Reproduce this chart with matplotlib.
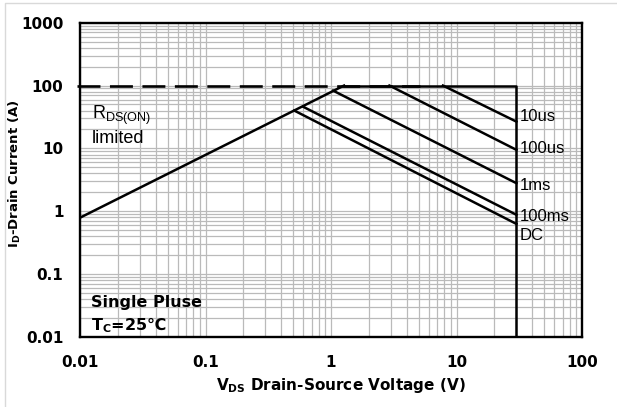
import matplotlib
matplotlib.use('Agg')
import matplotlib.pyplot as plt
from matplotlib.lines import Line2D
from matplotlib.ticker import LogLocator, FixedLocator, NullFormatter

plt.rcParams['mathtext.fontset'] = 'custom'
plt.rcParams['mathtext.rm'] = 'Liberation Sans'
plt.rcParams['mathtext.bf'] = 'DejaVu Sans:bold'

# safe operating area
rds_v = [0.01, 1.27]
rds_i = [0.79, 100]
limit_v = [1.27, 30, 30]
limit_i = [100, 100, 0.01]
dash_v = [0.0095, 5.1]
dash_i = [100, 100]

pulse_names = ['10us', '100us', '1ms', '100ms', 'DC']
pulse_v0 = [7.8, 2.92, 1.04, 0.6, 0.51]
pulse_i0 = [100, 100, 83, 46, 40]
pulse_v1 = [30, 30, 30, 30, 30]
pulse_i1 = [26.7, 9.5, 2.8, 0.88, 0.63]
label_i = [27.7, 8.4, 2.19, 0.71, 0.35]

xticks = [0.01, 0.1, 1, 10, 100]
xticklabels = ['0.01', '0.1', '1', '10', '100']
yticks = [0.01, 0.1, 1, 10, 100, 1000]
yticklabels = ['0.01', '0.1', '1', '10', '100', '1000']

fig = plt.figure(figsize=(6.17, 4.07), dpi=100)
ax = fig.add_axes([80/617, 1-337/407, 502/617, 314.3/407])
ax.set_xscale('log')
ax.set_yscale('log')
ax.set_xlim(0.01, 100)
ax.set_ylim(0.01, 1000)

ax.xaxis.set_major_locator(FixedLocator(xticks))
ax.set_xticklabels(xticklabels)
ax.yaxis.set_major_locator(FixedLocator(yticks))
ax.set_yticklabels(yticklabels)
ax.xaxis.set_minor_locator(LogLocator(base=10, subs=range(2, 10), numticks=20))
ax.yaxis.set_minor_locator(LogLocator(base=10, subs=range(2, 10), numticks=20))
ax.xaxis.set_minor_formatter(NullFormatter())
ax.yaxis.set_minor_formatter(NullFormatter())
ax.grid(True, which='both', color='#bababa', lw=0.9)
ax.set_axisbelow(True)
ax.tick_params(which='both', length=0)
ax.tick_params(axis='y', pad=12)
ax.tick_params(axis='x', pad=13)
for t in ax.get_xticklabels() + ax.get_yticklabels():
    t.set_fontfamily('DejaVu Sans')
    t.set_fontweight('bold')
    t.set_fontsize(11)
for s in ax.spines.values():
    s.set_linewidth(1.7)
    s.set_color('black')

# limits
ax.plot(rds_v, rds_i, color='black', lw=1.8)
ax.plot(limit_v, limit_i, color='black', lw=1.8)
ax.plot(dash_v, dash_i, color='black', lw=1.9, dashes=(8.7, 3.6), clip_on=False)

for name, v0, i0, v1, i1, li in zip(pulse_names, pulse_v0, pulse_i0, pulse_v1, pulse_i1, label_i):
    ax.plot([v0, v1], [i0, i1], color='black', lw=1.8)
    ax.text(32, li, name, fontsize=12, family='Liberation Sans', ha='left', va='baseline')

ax.text(0.0125, 29, r'R$_{\mathrm{DS(ON)}}$', fontsize=13, family='Liberation Sans', ha='left', va='baseline')
ax.text(0.0125, 12.2, 'limited', fontsize=13, family='Liberation Sans', ha='left', va='baseline')

ax.text(0.0123, 0.0299, 'Single Pluse', fontsize=11.5, family='DejaVu Sans', weight='bold', ha='left', va='baseline')
ax.text(0.0123, 0.0128, r'T$_{\mathbf{C}}$=25℃', fontsize=11.5, family='DejaVu Sans', weight='bold', ha='left', va='baseline')

ax.set_xlabel(r'V$_{\mathbf{DS}}$ Drain-Source Voltage (V)', fontsize=11, family='DejaVu Sans', weight='bold')
ax.set_ylabel(r'I$_{\mathbf{D}}$-Drain Current (A)', fontsize=9.5, family='DejaVu Sans', weight='bold')
ax.xaxis.set_label_coords(0.52, -0.125)
ax.yaxis.set_label_coords(-0.113, 0.52)

# thin frame on top and left of the picture
fig.add_artist(Line2D([5/617, 5/617, 1], [0, 1-2.7/407, 1-2.7/407], color='#d9d9d9', lw=1))

fig.savefig('out.png', dpi=100)
